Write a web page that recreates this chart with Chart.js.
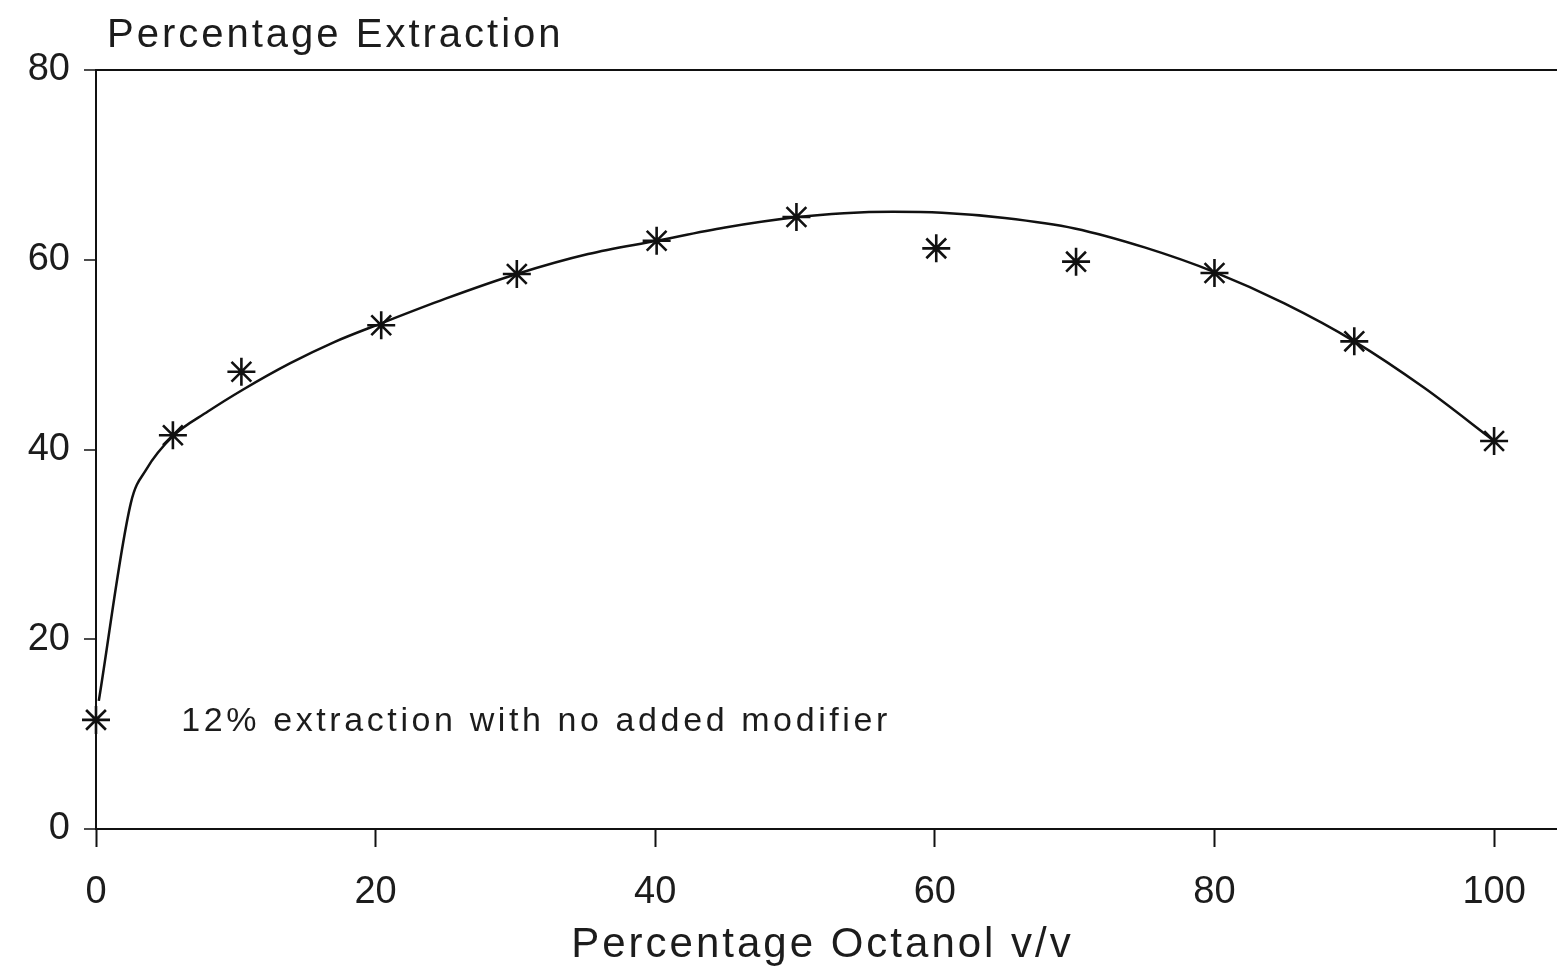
<!DOCTYPE html>
<html>
<head>
<meta charset="utf-8">
<title>Percentage Extraction</title>
<script src="https://cdn.jsdelivr.net/npm/chart.js"></script>
<style>
html,body{margin:0;padding:0;background:#fff;overflow:hidden}
#wrap{width:1557px;height:966px;position:relative}
canvas{display:block}
</style>
</head>
<body>
<div id="wrap"><canvas id="grafico"></canvas></div>
<script>
// measured points (% octanol v/v, % extraction)
const octanol=[0,5.5,10.4,20.4,30.1,40.1,50.1,60.1,70.1,80,90,100]
const extracao=[11.5,41.5,48.2,53.1,58.5,62.0,64.5,61.2,59.8,58.6,51.4,40.9]

// fitted curve through the points
const curvaX=[0.2,2.5,3.6,5.5,8,10.5,13.9,17,20.4,25,30.1,35.2,40.1,45,50.2,53.5,57,60.5,65,70,75,80,85,90,95,100]
const curvaY=[13.5,34.4,37.9,41.4,44.0,46.3,49.1,51.3,53.3,55.9,58.5,60.6,62.0,63.4,64.5,64.9,65.05,64.95,64.4,63.3,61.3,58.7,55.4,51.4,46.5,40.9]

const ticksX=[0,20,40,60,80,100]
const ticksY=[0,20,40,60,80]

const tituloY="Percentage Extraction"
const tituloX="Percentage Octanol v/v"
const nota="12% extraction with no added modifier"
const notaPos={x:6.1,y:11.3}

const fonte="'Liberation Sans', Arial, sans-serif"
const tinta="#1c1c1c"

const textos={
  id:"textos",
  afterDraw(chart){
    const c=chart.ctx
    const a=chart.chartArea
    c.save()
    c.fillStyle=tinta
    c.textBaseline="alphabetic"
    // title above the y axis
    c.font="40px "+fonte
    c.letterSpacing="3px"
    c.textAlign="left"
    c.fillText(tituloY,a.left+11,47)
    // x axis title
    c.font="42px "+fonte
    c.letterSpacing="3px"
    c.textAlign="center"
    c.fillText(tituloX,a.left+(a.right-a.left)*0.5-4,957)
    // note next to the 0% point
    c.font="34px "+fonte
    c.letterSpacing="3.6px"
    c.textAlign="left"
    c.textBaseline="middle"
    const px=chart.scales.x.getPixelForValue(notaPos.x)
    const py=chart.scales.y.getPixelForValue(notaPos.y)
    c.fillText(nota,px,py)
    c.restore()
  }
}

const ctx=document.getElementById("grafico")
new Chart(ctx,{
  type:"scatter",
  data:{
    datasets:[
      {
        label:"pontos",
        data:octanol.map((v,i)=>({x:v,y:extracao[i]})),
        pointStyle:"star",
        pointRadius:14,
        pointBorderWidth:2.6,
        borderColor:"#111",
        backgroundColor:"#111",
        showLine:false,
        clip:false,
        order:0
      },
      {
        label:"curva",
        data:curvaX.map((v,i)=>({x:v,y:curvaY[i]})),
        showLine:true,
        pointRadius:0,
        borderColor:"#111",
        borderWidth:2.5,
        cubicInterpolationMode:"monotone",
        order:1
      }
    ]
  },
  options:{
    responsive:true,
    maintainAspectRatio:false,
    animation:false,
    layout:{autoPadding:false,padding:{top:70,left:0,right:0,bottom:0}},
    plugins:{legend:{display:false},tooltip:{enabled:false}},
    scales:{
      x:{
        type:"linear",
        min:0,
        max:104.5,
        afterBuildTicks:(s)=>{s.ticks=ticksX.map(v=>({value:v}))},
        afterFit:(s)=>{s.height=137},
        border:{display:true,color:"#111",width:2},
        grid:{drawOnChartArea:false,drawTicks:true,tickLength:18,tickColor:"#111",tickWidth:2},
        ticks:{color:tinta,padding:0,font:{family:fonte,size:38,lineHeight:2.42},maxRotation:0}
      },
      y:{
        type:"linear",
        min:0,
        max:80,
        afterBuildTicks:(s)=>{s.ticks=ticksY.map(v=>({value:v}))},
        afterFit:(s)=>{s.width=96},
        border:{display:true,color:"#111",width:2},
        grid:{
          drawOnChartArea:true,
          color:(g)=>g.tick&&g.tick.value===80?"#111":"rgba(0,0,0,0)",
          lineWidth:2,
          tickLength:12,
          tickColor:"#111",
          tickWidth:1.5
        },
        ticks:{color:tinta,padding:14,font:{family:fonte,size:38}}
      }
    }
  },
  plugins:[textos]
})
</script>
</body>
</html>
